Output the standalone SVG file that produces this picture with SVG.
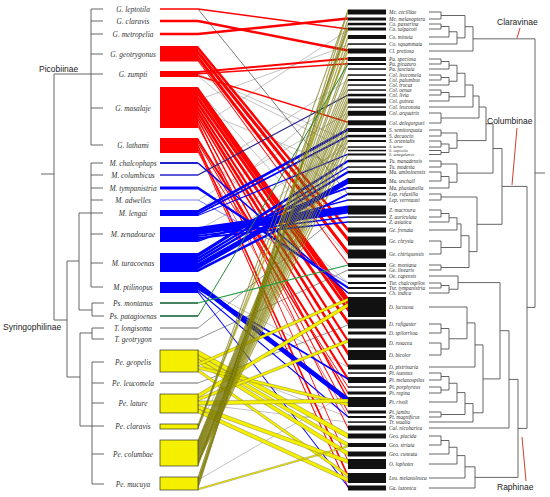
<svg xmlns="http://www.w3.org/2000/svg" width="550" height="497" viewBox="0 0 550 497">
<style>
.t{fill:none;stroke:#555;stroke-width:0.9}
.lb{font-family:"Liberation Serif",serif;font-style:italic;font-size:7.4px;fill:#333;text-anchor:middle}
.rl{font-family:"Liberation Serif",serif;font-style:italic;font-size:5.3px;fill:#333}
.rs{font-size:4.2px}
.cl{font-family:"Liberation Sans",Arial,sans-serif;font-size:8.5px;fill:#222}
.r{fill:#ff0000}
.b{fill:#0000ff}
.y{fill:#f5f000;stroke:#1a1a1a;stroke-width:0.25}
.yb{fill:#f5f000;stroke:#333;stroke-width:0.7}
.g{stroke:#9a9a9a;stroke-width:0.6;fill:none}
.rb{fill:#111}
.ptr{stroke:#d0402a;stroke-width:1;fill:none}
</style>
<rect width="550" height="497" fill="#fff"/>

<g id="left-tree">
<path class="t" d="M103 9H91V145H103M91 21H103M91 34H103M91 54H103M91 74H103M91 108H103M54 74H91"/>
<path class="t" d="M103 163H91V287H103M91 175H103M91 188H103M91 200H103M91 213H103M91 234H103M91 263H103M79 213H91"/>
<path class="t" d="M104 303H92V316H104M79 310H92"/>
<path class="t" d="M41 174H54M54 74V320H67M67 261V377M67 261H79M79 213V310M67 377H80M80 333V426M80 333H92M92 328V339M92 328H104M92 339H104M80 426H92M92 362V484M92 362H104M92 383H104M92 403H104M92 426H104M92 454H104M92 484H104"/>
</g>
<g id="clade-Picobiinae"><text class="cl" x="39" y="72">Picobiinae</text></g>
<g id="clade-Syringophilinae"><text class="cl" x="3" y="330">Syringophilinae</text></g>

<g id="connectors">
<g id="gray-links">
<path class="g" d="M198 74L348 141M198 75L348 150M198 76L348 200M198 100L348 45M198 110L348 170M198 175L348 80M198 212L348 90M198 200L348 113M198 230L348 147M198 262L348 141M198 286L348 367M198 360L348 417M198 404L348 422M198 427L348 140M198 480L348 393M198 128L348 30M198 90L348 256M198 150L348 283"/>
<path d="M198 9L348 194" stroke="#444" stroke-width="0.7" fill="none"/>
<path d="M198 328L348 208M198 339L348 270M198 383L348 325" stroke="#777" stroke-width="0.8" fill="none"/>
</g>
<g id="red-links">
<path d="M198 9L348 29" stroke="#f00" stroke-width="1.5"/>
<path d="M198 21L348 50.5" stroke="#f00" stroke-width="2.5"/>
<path d="M198 34L348 18.5" stroke="#f00" stroke-width="2.5"/>
<polygon class="r" points="198,46 348,228 348,232 198,50"/>
<polygon class="r" points="198,50 348,237 348,242 198,55"/>
<polygon class="r" points="198,55 348,250 348,255 198,60"/>
<polygon class="r" points="198,60 348,263.5 348,265 198,61.5"/>
<polygon class="r" points="198,71 348,57.5 348,59.5 198,73"/>
<polygon class="r" points="198,73 348,63 348,64.5 198,74.5"/>
<polygon class="r" points="198,75 348,121.5 348,123 198,76.5"/>
<polygon class="r" points="198,87 348,297 348,306 198,96"/>
<polygon class="r" points="198,96 348,307 348,312 198,101"/>
<polygon class="r" points="198,101 348,320 348,325 198,106"/>
<polygon class="r" points="198,106 348,339 348,343 198,110"/>
<polygon class="r" points="198,110 348,351 348,356 198,115"/>
<polygon class="r" points="198,115 348,364.5 348,367.5 198,118"/>
<polygon class="r" points="198,118 348,398 348,401 198,121"/>
<polygon class="r" points="198,121 348,460 348,462 198,123"/>
<polygon class="r" points="198,123 348,427 348,429 198,125"/>
<polygon class="r" points="198,125 348,411 348,413 198,127"/>
<polygon class="r" points="198,138 348,377 348,381 198,142"/>
<polygon class="r" points="198,142 348,392 348,394 198,144"/>
<polygon class="r" points="198,144 348,474 348,478 198,148"/>
<polygon class="r" points="198,148 348,486 348,488.5 198,150.5"/>
<polygon class="r" points="198,150.5 348,386.2 348,387.7 198,152"/>
<polygon class="r" points="198,152 348,416.5 348,417.5 198,153"/>
</g>
<g id="blue-links">
<path d="M198 163L348 293" stroke="#00f" stroke-width="1.5"/>
<path d="M198 175L348 95" stroke="#20208a" stroke-width="1.2"/>
<path d="M198 200L348 283" stroke="#8080ff" stroke-width="1"/>
<polygon class="b" points="198,186.5 348,286.5 348,289 198,189.5"/>
<polygon class="b" points="198,210 348,128 348,131 198,213"/>
<polygon class="b" points="198,213 348,135 348,137 198,215"/>
<polygon class="b" points="198,215 348,153.5 348,155 198,216"/>
<polygon class="b" points="198,227 348,205.5 348,213.5 198,235"/>
<polygon class="b" points="198,235 348,216.2 348,217.7 198,237"/>
<polygon class="b" points="198,237 348,221.2 348,222.7 198,239"/>
<polygon class="b" points="198,239 348,199.2 348,200.7 198,240.5"/>
<polygon class="b" points="198,240.5 348,186.8 348,188.8 198,242"/>
<polygon class="b" points="198,253 348,159.8 348,162.2 198,257"/>
<polygon class="b" points="198,257 348,166.2 348,167.7 198,260"/>
<polygon class="b" points="198,260 348,170.8 348,173.2 198,263"/>
<polygon class="b" points="198,263 348,178 348,184 198,269"/>
<polygon class="b" points="198,269 348,193 348,195 198,272"/>
<polygon class="b" points="198,282 348,397 348,403 198,288"/>
<polygon class="b" points="198,288 348,378 348,380 198,290"/>
<polygon class="b" points="198,290 348,416 348,417.5 198,291.5"/>
<polygon class="b" points="198,291.5 348,486 348,487.5 198,293"/>
</g>
<g id="yellow-links">
<polygon class="y" points="198,350 348,433.5 348,438.5 198,355"/>
<polygon class="y" points="198,355 348,443 348,447 198,359"/>
<polygon class="y" points="198,359 348,451.5 348,456 198,363"/>
<polygon class="y" points="198,363 348,298 348,301 198,366"/>
<polygon class="y" points="198,366 348,403 348,406 198,369"/>
<polygon class="y" points="198,369 348,474 348,477 198,372"/>
<polygon class="y" points="198,394 348,303 348,307 198,398"/>
<polygon class="y" points="198,398 348,339.5 348,342.5 198,401"/>
<polygon class="y" points="198,401 348,399 348,402.5 198,405"/>
<polygon class="y" points="198,405 348,459.5 348,463.5 198,409"/>
<polygon class="y" points="198,409 348,478 348,482 198,413"/>
<polygon class="y" points="198,424 348,49 348,51.5 198,426.5"/>
<polygon class="y" points="198,426.5 348,10 348,11.3 198,427.7"/>
<polygon class="y" points="198,427.7 348,28 348,29.2 198,429"/>
<polygon class="y" points="198,440 348,74.3 348,75.6 198,441.3"/>
<polygon class="y" points="198,441.3 348,79.3 348,80.6 198,442.6"/>
<polygon class="y" points="198,442.6 348,84.3 348,85.6 198,443.9"/>
<polygon class="y" points="198,443.9 348,89.3 348,90.6 198,445.2"/>
<polygon class="y" points="198,445.2 348,94.3 348,95.6 198,446.5"/>
<polygon class="y" points="198,446.5 348,98.5 348,99.8 198,447.8"/>
<polygon class="y" points="198,447.8 348,101.5 348,102.8 198,449.1"/>
<polygon class="y" points="198,449.1 348,106.3 348,107.6 198,450.4"/>
<polygon class="y" points="198,450.4 348,111 348,112.3 198,451.7"/>
<polygon class="y" points="198,451.7 348,114.5 348,115.8 198,453"/>
<polygon class="y" points="198,453 348,120.5 348,121.8 198,454.3"/>
<polygon class="y" points="198,454.3 348,123.5 348,124.8 198,455.6"/>
<polygon class="y" points="198,455.6 348,128.5 348,129.8 198,456.9"/>
<polygon class="y" points="198,456.9 348,131 348,132.3 198,458.2"/>
<polygon class="y" points="198,458.2 348,135.3 348,136.6 198,459.5"/>
<polygon class="y" points="198,459.5 348,140.3 348,141.6 198,460.8"/>
<polygon class="y" points="198,460.8 348,146.3 348,147.6 198,462.1"/>
<polygon class="y" points="198,462.1 348,153.7 348,155 198,463.4"/>
<polygon class="y" points="198,463.4 348,57.5 348,58.8 198,464.7"/>
<polygon class="y" points="198,464.7 348,62.5 348,63.8 198,466"/>
<polygon class="y" points="198,477 348,23.2 348,24.7 198,478.5"/>
<polygon class="y" points="198,479 348,27.5 348,29.5 198,481"/>
<polygon class="y" points="198,481 348,35.5 348,37.5 198,483"/>
<polygon class="y" points="198,483 348,43.3 348,44.8 198,484.5"/>
<polygon class="y" points="198,485 348,9.8 348,11.8 198,487"/>
<polygon class="y" points="198,487 348,18 348,19.5 198,488.5"/>
<polygon class="y" points="198,488.5 348,445.5 348,447 198,490"/>
</g>
<g id="green-links">
<path d="M198 303L348 265" stroke="#22a045" stroke-width="1.2"/>
<path d="M198 316L348 64" stroke="#2a8a3a" stroke-width="1"/>
</g>
</g>

<g id="left-taxa">
<g id="L1"><path d="M160 9H198" stroke="#f00" stroke-width="1.5"/><text class="lb" x="133" y="11.6">G. leptotila</text></g>
<g id="L2"><path d="M160 21H198" stroke="#f00" stroke-width="2.5"/><text class="lb" x="133" y="23.6">G. claravis</text></g>
<g id="L3"><path d="M160 34H198" stroke="#f00" stroke-width="2.5"/><text class="lb" x="133" y="36.6">G. metropelia</text></g>
<g id="L4"><rect class="r" x="160" y="46" width="38" height="15.5"/><text class="lb" x="133" y="56.6">G. geotrygonus</text></g>
<g id="L5"><rect class="r" x="160" y="71" width="38" height="6"/><text class="lb" x="133" y="76.6">G. zumpti</text></g>
<g id="L6"><rect class="r" x="160" y="87" width="38" height="41"/><text class="lb" x="133" y="110.6">G. masalaje</text></g>
<g id="L7"><rect class="r" x="160" y="138" width="38" height="15"/><text class="lb" x="133" y="147.6">G. lathami</text></g>
<g id="L8"><path d="M160 163H198" stroke="#22c" stroke-width="2"/><text class="lb" x="133" y="165.6">M. chalcophaps</text></g>
<g id="L9"><path d="M160 175H198" stroke="#22c" stroke-width="1.5"/><text class="lb" x="133" y="177.6">M. columbicus</text></g>
<g id="L10"><rect class="b" x="160" y="186.5" width="38" height="3"/><text class="lb" x="133" y="190.6">M. tympanistria</text></g>
<g id="L11"><path d="M160 200H198" stroke="#8080ff" stroke-width="1.2"/><text class="lb" x="133" y="202.6">M. adwelles</text></g>
<g id="L12"><rect class="b" x="160" y="210" width="38" height="6"/><text class="lb" x="133" y="215.6">M. lengai</text></g>
<g id="L13"><rect class="b" x="160" y="227" width="38" height="15"/><text class="lb" x="133" y="236.6">M. zenadourae</text></g>
<g id="L14"><rect class="b" x="160" y="253" width="38" height="19"/><text class="lb" x="133" y="265.6">M. turacoenas</text></g>
<g id="L15"><rect class="b" x="160" y="282" width="38" height="11"/><text class="lb" x="133" y="289.6">M. ptilinopus</text></g>
<g id="L16"><path d="M160 303H198" stroke="#0a5a2a" stroke-width="1.6"/><text class="lb" x="133" y="305.6">Ps. montanus</text></g>
<g id="L17"><path d="M160 316H198" stroke="#0a5a2a" stroke-width="1.6"/><text class="lb" x="133" y="318.6">Ps. patagioenas</text></g>
<g id="L18"><path d="M160 328H198" stroke="#555" stroke-width="0.9"/><text class="lb" x="133" y="330.6">T. longisoma</text></g>
<g id="L19"><path d="M160 339H198" stroke="#555" stroke-width="0.9"/><text class="lb" x="133" y="341.6">T. geotrygon</text></g>
<g id="L20"><rect class="yb" x="160" y="350" width="38" height="22"/><text class="lb" x="133" y="364.6">Pe. geopelis</text></g>
<g id="L21"><path d="M160 383H198" stroke="#555" stroke-width="0.9"/><text class="lb" x="133" y="385.6">Pe. leucomela</text></g>
<g id="L22"><rect class="yb" x="160" y="394" width="38" height="19"/><text class="lb" x="133" y="405.6">Pe. lature</text></g>
<g id="L23"><rect class="yb" x="160" y="424" width="38" height="5"/><text class="lb" x="133" y="428.6">Pe. claravis</text></g>
<g id="L24"><rect class="yb" x="160" y="440" width="38" height="26"/><text class="lb" x="133" y="456.6">Pe. columbae</text></g>
<g id="L25"><rect class="yb" x="160" y="477" width="38" height="13"/><text class="lb" x="133" y="486.6">Pe. mucuya</text></g>
</g>

<g id="right-taxa">
<g id="R1"><rect class="rb" x="348" y="9.5" width="38" height="5"/><text class="rl" x="389" y="13.8">Mc. cecilliae</text></g>
<g id="R2"><rect class="rb" x="348" y="17.5" width="38" height="3"/><text class="rl" x="389" y="20.8">Mc. melanoptera</text></g>
<g id="R3"><rect class="rb" x="348" y="22.8" width="38" height="2.5"/><text class="rl" x="389" y="25.8">Co. passerina</text></g>
<g id="R4"><rect class="rb" x="348" y="27.5" width="38" height="3"/><text class="rl" x="389" y="30.8">Co. talpacoti</text></g>
<g id="R5"><rect class="rb" x="348" y="35" width="38" height="4"/><text class="rl" x="389" y="38.8">Co. minuta</text></g>
<g id="R6"><rect class="rb" x="348" y="43.3" width="38" height="1.5"/><text class="rl" x="389" y="45.8">Co. squammata</text></g>
<g id="R7"><rect class="rb" x="348" y="48.5" width="38" height="5"/><text class="rl" x="389" y="52.8">Cl. pretiosa</text></g>
<g id="R8"><rect class="rb" x="348" y="57" width="38" height="4"/><text class="rl" x="389" y="60.8">Pa. speciosa</text></g>
<g id="R9"><rect class="rb" x="348" y="63" width="38" height="2"/><text class="rl" x="389" y="65.8">Pa. picazuro</text></g>
<g id="R10"><rect class="rb" x="348" y="68.3" width="38" height="1.5"/><text class="rl" x="389" y="70.8">Pa. fasciata</text></g>
<g id="R11"><rect class="rb" x="348" y="74.3" width="38" height="1.5"/><text class="rl" x="389" y="76.8">Col. leucomela</text></g>
<g id="R12"><rect class="rb" x="348" y="79" width="38" height="2"/><text class="rl" x="389" y="81.8">Col. palumbus</text></g>
<g id="R13"><rect class="rb" x="348" y="84.3" width="38" height="1.5"/><text class="rl" x="389" y="86.8">Col. trocaz</text></g>
<g id="R14"><rect class="rb" x="348" y="89.3" width="38" height="1.5"/><text class="rl" x="389" y="91.8">Col. oenas</text></g>
<g id="R15"><rect class="rb" x="348" y="93.8" width="38" height="2.5"/><text class="rl" x="389" y="96.8">Col. livia</text></g>
<g id="R16"><rect class="rb" x="348" y="98.5" width="38" height="5"/><text class="rl" x="389" y="102.8">Col. guinea</text></g>
<g id="R17"><rect class="rb" x="348" y="106.3" width="38" height="1.5"/><text class="rl" x="389" y="108.8">Col. leuconota</text></g>
<g id="R18"><rect class="rb" x="348" y="110.8" width="38" height="5"/><text class="rl" x="389" y="114.8">Col. arquatrix</text></g>
<g id="R19"><rect class="rb" x="348" y="120.3" width="38" height="5"/><text class="rl" x="389" y="124.8">Col. delegorguei</text></g>
<g id="R20"><rect class="rb" x="348" y="128" width="38" height="4"/><text class="rl" x="389" y="131.8">S. semitorquata</text></g>
<g id="R21"><rect class="rb" x="348" y="134.8" width="38" height="2.5"/><text class="rl" x="389" y="137.8">S. decaocto</text></g>
<g id="R22"><rect class="rb" x="348" y="140" width="38" height="2"/><text class="rl" x="389" y="142.8">S. orientalis</text></g>
<g id="R23"><rect class="rb" x="348" y="146.3" width="38" height="1.5"/><text class="rl rs" x="389" y="147.9">S. turtur</text></g>
<g id="R24"><rect class="rb" x="348" y="149.8" width="38" height="1.5"/><text class="rl rs" x="389" y="152">S. capicola</text></g>
<g id="R25"><rect class="rb" x="348" y="153.5" width="38" height="2"/><text class="rl rs" x="389" y="156.4">S. senegalensis</text></g>
<g id="R26"><rect class="rb" x="348" y="159.8" width="38" height="2.5"/><text class="rl" x="389" y="162.8">Tu. manadensis</text></g>
<g id="R27"><rect class="rb" x="348" y="166.3" width="38" height="1.5"/><text class="rl" x="389" y="168.8">Tu. modesta</text></g>
<g id="R28"><rect class="rb" x="348" y="170.8" width="38" height="2.5"/><text class="rl" x="389" y="173.8">Ma. amboinensis</text></g>
<g id="R29"><rect class="rb" x="348" y="178" width="38" height="6"/><text class="rl" x="389" y="182.8">Ma. unchall</text></g>
<g id="R30"><rect class="rb" x="348" y="187" width="38" height="2"/><text class="rl" x="389" y="189.8">Ma. phasianella</text></g>
<g id="R31"><rect class="rb" x="348" y="192.8" width="38" height="2.5"/><text class="rl" x="389" y="195.8">Lep. rufaxilla</text></g>
<g id="R32"><rect class="rb" x="348" y="199.3" width="38" height="1.5"/><text class="rl" x="389" y="201.8">Lep. verreauxi</text></g>
<g id="R33"><rect class="rb" x="348" y="205.5" width="38" height="9"/><text class="rl" x="389" y="211.8">Z. macroura</text></g>
<g id="R34"><rect class="rb" x="348" y="216.3" width="38" height="1.5"/><text class="rl" x="389" y="218.8">Z. auriculata</text></g>
<g id="R35"><rect class="rb" x="348" y="221.3" width="38" height="1.5"/><text class="rl" x="389" y="223.8">Z. asiatica</text></g>
<g id="R36"><rect class="rb" x="348" y="227.5" width="38" height="5"/><text class="rl" x="389" y="231.8">Ge. frenata</text></g>
<g id="R37"><rect class="rb" x="348" y="236.5" width="38" height="9"/><text class="rl" x="389" y="242.8">Ge. chrysia</text></g>
<g id="R38"><rect class="rb" x="348" y="249.5" width="38" height="9"/><text class="rl" x="389" y="255.8">Ge. chiriquensis</text></g>
<g id="R39"><rect class="rb" x="348" y="263" width="38" height="4"/><text class="rl" x="389" y="266.8">Ge. montana</text></g>
<g id="R40"><rect class="rb" x="348" y="269.3" width="38" height="1.5"/><text class="rl" x="389" y="271.8">Ge. linearis</text></g>
<g id="R41"><rect class="rb" x="348" y="274.5" width="38" height="3"/><text class="rl" x="389" y="277.8">Oe. capensis</text></g>
<g id="R42"><rect class="rb" x="348" y="282" width="38" height="2"/><text class="rl" x="389" y="284.8">Tur. chalcospilos</text></g>
<g id="R43"><rect class="rb" x="348" y="287" width="38" height="2"/><text class="rl" x="389" y="289.8">Tur. tympanistria</text></g>
<g id="R44"><rect class="rb" x="348" y="292.3" width="38" height="1.5"/><text class="rl" x="389" y="294.8">Ch. indica</text></g>
<g id="R45"><rect class="rb" x="348" y="297" width="38" height="20"/><text class="rl" x="389" y="308.8">D. luctuosa</text></g>
<g id="R46"><rect class="rb" x="348" y="319.5" width="38" height="9"/><text class="rl" x="389" y="325.8">D. rufigaster</text></g>
<g id="R47"><rect class="rb" x="348" y="331.5" width="38" height="3"/><text class="rl" x="389" y="334.8">D. spilorrhoa</text></g>
<g id="R48"><rect class="rb" x="348" y="338.5" width="38" height="9"/><text class="rl" x="389" y="344.8">D. rosacea</text></g>
<g id="R49"><rect class="rb" x="348" y="350" width="38" height="10"/><text class="rl" x="389" y="356.8">D. bicolor</text></g>
<g id="R50"><rect class="rb" x="348" y="364.5" width="38" height="5"/><text class="rl" x="389" y="368.8">D. pistrinaria</text></g>
<g id="R51"><rect class="rb" x="348" y="372.3" width="38" height="1.5"/><text class="rl" x="389" y="374.8">Pt. iozonus</text></g>
<g id="R52"><rect class="rb" x="348" y="377" width="38" height="6"/><text class="rl" x="389" y="381.8">Pt. melanospilus</text></g>
<g id="R53"><rect class="rb" x="348" y="386.3" width="38" height="1.5"/><text class="rl" x="389" y="388.8">Pt. porphyreus</text></g>
<g id="R54"><rect class="rb" x="348" y="391.5" width="38" height="3"/><text class="rl" x="389" y="394.8">Pt. regina</text></g>
<g id="R55"><rect class="rb" x="348" y="397" width="38" height="10"/><text class="rl" x="389" y="403.8">Pt. rivoli</text></g>
<g id="R56"><rect class="rb" x="348" y="410.5" width="38" height="3"/><text class="rl" x="389" y="413.8">Pt. jambu</text></g>
<g id="R57"><rect class="rb" x="348" y="416" width="38" height="2"/><text class="rl" x="389" y="418.8">Pt. magnificus</text></g>
<g id="R58"><rect class="rb" x="348" y="421.3" width="38" height="1.5"/><text class="rl" x="389" y="423.8">Tr. waalia</text></g>
<g id="R59"><rect class="rb" x="348" y="425.5" width="38" height="5"/><text class="rl" x="389" y="429.8">Cal. nicobarica</text></g>
<g id="R60"><rect class="rb" x="348" y="433.5" width="38" height="5"/><text class="rl" x="389" y="437.8">Geo. placida</text></g>
<g id="R61"><rect class="rb" x="348" y="443" width="38" height="4"/><text class="rl" x="389" y="446.8">Geo. striata</text></g>
<g id="R62"><rect class="rb" x="348" y="451.5" width="38" height="5"/><text class="rl" x="389" y="455.8">Geo. cuneata</text></g>
<g id="R63"><rect class="rb" x="348" y="459" width="38" height="10"/><text class="rl" x="389" y="465.8">O. lophotes</text></g>
<g id="R64"><rect class="rb" x="348" y="473" width="38" height="10"/><text class="rl" x="389" y="479.8">Leu. melanoleuca</text></g>
<g id="R65"><rect class="rb" x="348" y="485.5" width="38" height="5"/><text class="rl" x="389" y="489.8">Ga. luzonica</text></g>
</g>

<g id="right-tree">
<path class="t" d="M429 12H441V19H429M429 24H441V29H429M441 26.5H449V37H429M449 31.75H457V44H429M441 15.5H465V37.875H457M465 26.69H473V51H429M473 38.84H535V307.4H527M535 173H545"/>
<path class="t" d="M429 59H441V64H429M441 61.5H449V69H429M429 75H441V80H429M441 77.5H449V85H429M449 65.25H457V81.25H449M429 90H441V95H429M441 92.5H449V101H429M457 73.25H465V96.75H449M465 85H473V107H429M429 113H441V123H429M473 96H479V118H441"/>
<path class="t" d="M429 130H441V136H429M429 141H441V147H429M429 150.5H441V154.5H429M441 144H449V152.5H441M441 133H457V148.25H449M479 107H486V140.6H457M429 161H441V167H429M429 172H441V181H429M441 176.5H449V188H429M441 164H457V182.25H449M486 123.8H493V173.1H457"/>
<path class="t" d="M429 194H441V200H429M429 210H441V217H429M441 213.5H449V222H429M449 217.75H457V230H429M429 241H441V254H429M457 223.9H461V247.5H441M429 265H441V270H429M461 235.7H469V267.5H441M441 197H477V251.6H469M493 148.5H502V224.3H477M502 186.4H527V428.4H518"/>
<path class="t" d="M429 283H441V288H429M441 285.5H449V293H429M429 276H458V289.25H449M429 324H441V333H429M429 343H441V355H429M441 328.5H449V349H441M429 307H467V338.75H449M467 322.9H475V367H429M429 373H441V380H429M429 387H441V393H429M441 376.5H449V390H441M449 383.25H457V402H429M429 412H441V417H429M457 392.6H465V414.5H441M465 403.6H473V422H429M475 344.9H483V412.8H473M458 282.6H500V378.9H483M500 330.7H509V428H429"/>
<path class="t" d="M429 436H441V445H429M441 440.5H449V454H429M449 447.25H457V464H429M457 455.6H465V478H429M465 466.8H475V488H429M509 379.4H518V477.4H475"/>
</g>
<g id="clade-Claravinae"><text class="cl" x="497" y="25">Claravinae</text><path class="ptr" d="M520 28L517 38"/></g>
<g id="clade-Columbinae"><text class="cl" x="487" y="124">Columbinae</text><path class="ptr" d="M517 128L512 185"/></g>
<g id="clade-Raphinae"><text class="cl" x="497" y="490">Raphinae</text><path class="ptr" d="M526 481L522 437"/></g>
</svg>
